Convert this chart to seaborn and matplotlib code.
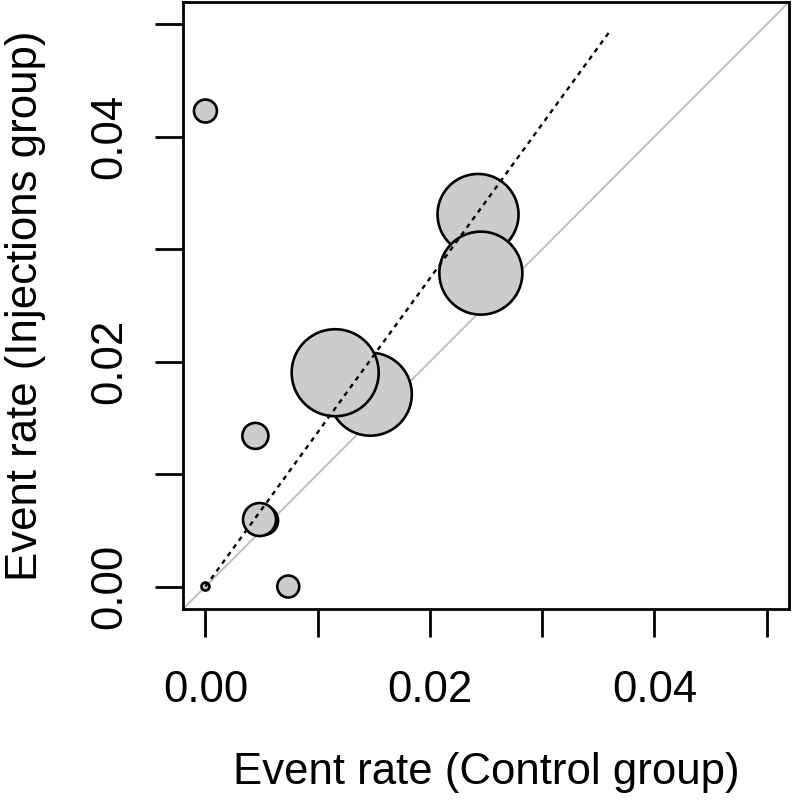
import matplotlib
matplotlib.use("Agg")
import matplotlib.pyplot as plt
import seaborn as sns
import pandas as pd
import numpy as np

# ---- data (L'Abbe plot) ----
control_rate = [0.0, 0.02429, 0.02454, 0.01469, 0.01156, 0.00445, 0.00518, 0.00482, 0.0, 0.00738]
injection_rate = [0.0423, 0.0331, 0.02788, 0.01711, 0.01902, 0.0134, 0.00587, 0.00596, 0.0, 0.0]
study_weight = [1.67, 20.77, 21.81, 21.81, 23.96, 2.14, 2.66, 3.45, 0.20, 1.53]

pooled_x = [0.0, 0.036]
pooled_ratio = 1.371

tick_values = [0.0, 0.01, 0.02, 0.03, 0.04, 0.05]
tick_labels = ["0.00", "", "0.02", "", "0.04", ""]
axis_limits = (-0.002, 0.052)

x_title = "Event rate (Control group)"
y_title = "Event rate (Injections group)"

df = pd.DataFrame({"control": control_rate, "injection": injection_rate, "weight": study_weight})

sns.set_style("white")
plt.rcParams["font.family"] = ["Liberation Sans", "DejaVu Sans"]

fig = plt.figure(figsize=(7.93, 8.0), dpi=100)
ax = fig.add_axes([183 / 793, 1 - 609 / 800, 606 / 793, 607 / 800])

# identity line (under bubbles)
ax.plot(axis_limits, axis_limits, color="#BEBEBE", lw=1.4, zorder=1, solid_capstyle="butt")

sns.scatterplot(data=df, x="control", y="injection", size="weight",
                sizes=(0, 16377), size_norm=(0, 100), legend=False,
                color="#CCCCCC", edgecolor="black", linewidth=1.9, alpha=1,
                ax=ax, zorder=2)

# pooled effect line (over bubbles)
px = np.array(pooled_x)
ax.plot(px, pooled_ratio * px, color="black", lw=1.7, ls=(0, (2.0, 2.0)), zorder=3)

ax.set_xlim(axis_limits)
ax.set_ylim(axis_limits)
ax.set_xticks(tick_values)
ax.set_xticklabels(tick_labels)
ax.set_yticks(tick_values)
ax.set_yticklabels(tick_labels, rotation=90, va="center")

for s in ax.spines.values():
    s.set_visible(True)
    s.set_color("black")
    s.set_linewidth(2.0)

ax.tick_params(axis="both", which="major", bottom=True, left=True, top=False, right=False,
               direction="out", length=20, width=2.0, color="black",
               labelsize=31.5, labelcolor="black")
ax.tick_params(axis="x", pad=24)
ax.tick_params(axis="y", pad=18)

ax.set_xlabel(x_title, fontsize=31.5, color="black")
ax.set_ylabel(y_title, fontsize=31.5, color="black")
ax.xaxis.set_label_coords(0.5, -0.236)
ax.yaxis.set_label_coords(-0.226, 0.5)

fig.savefig("out.png", dpi=100)
